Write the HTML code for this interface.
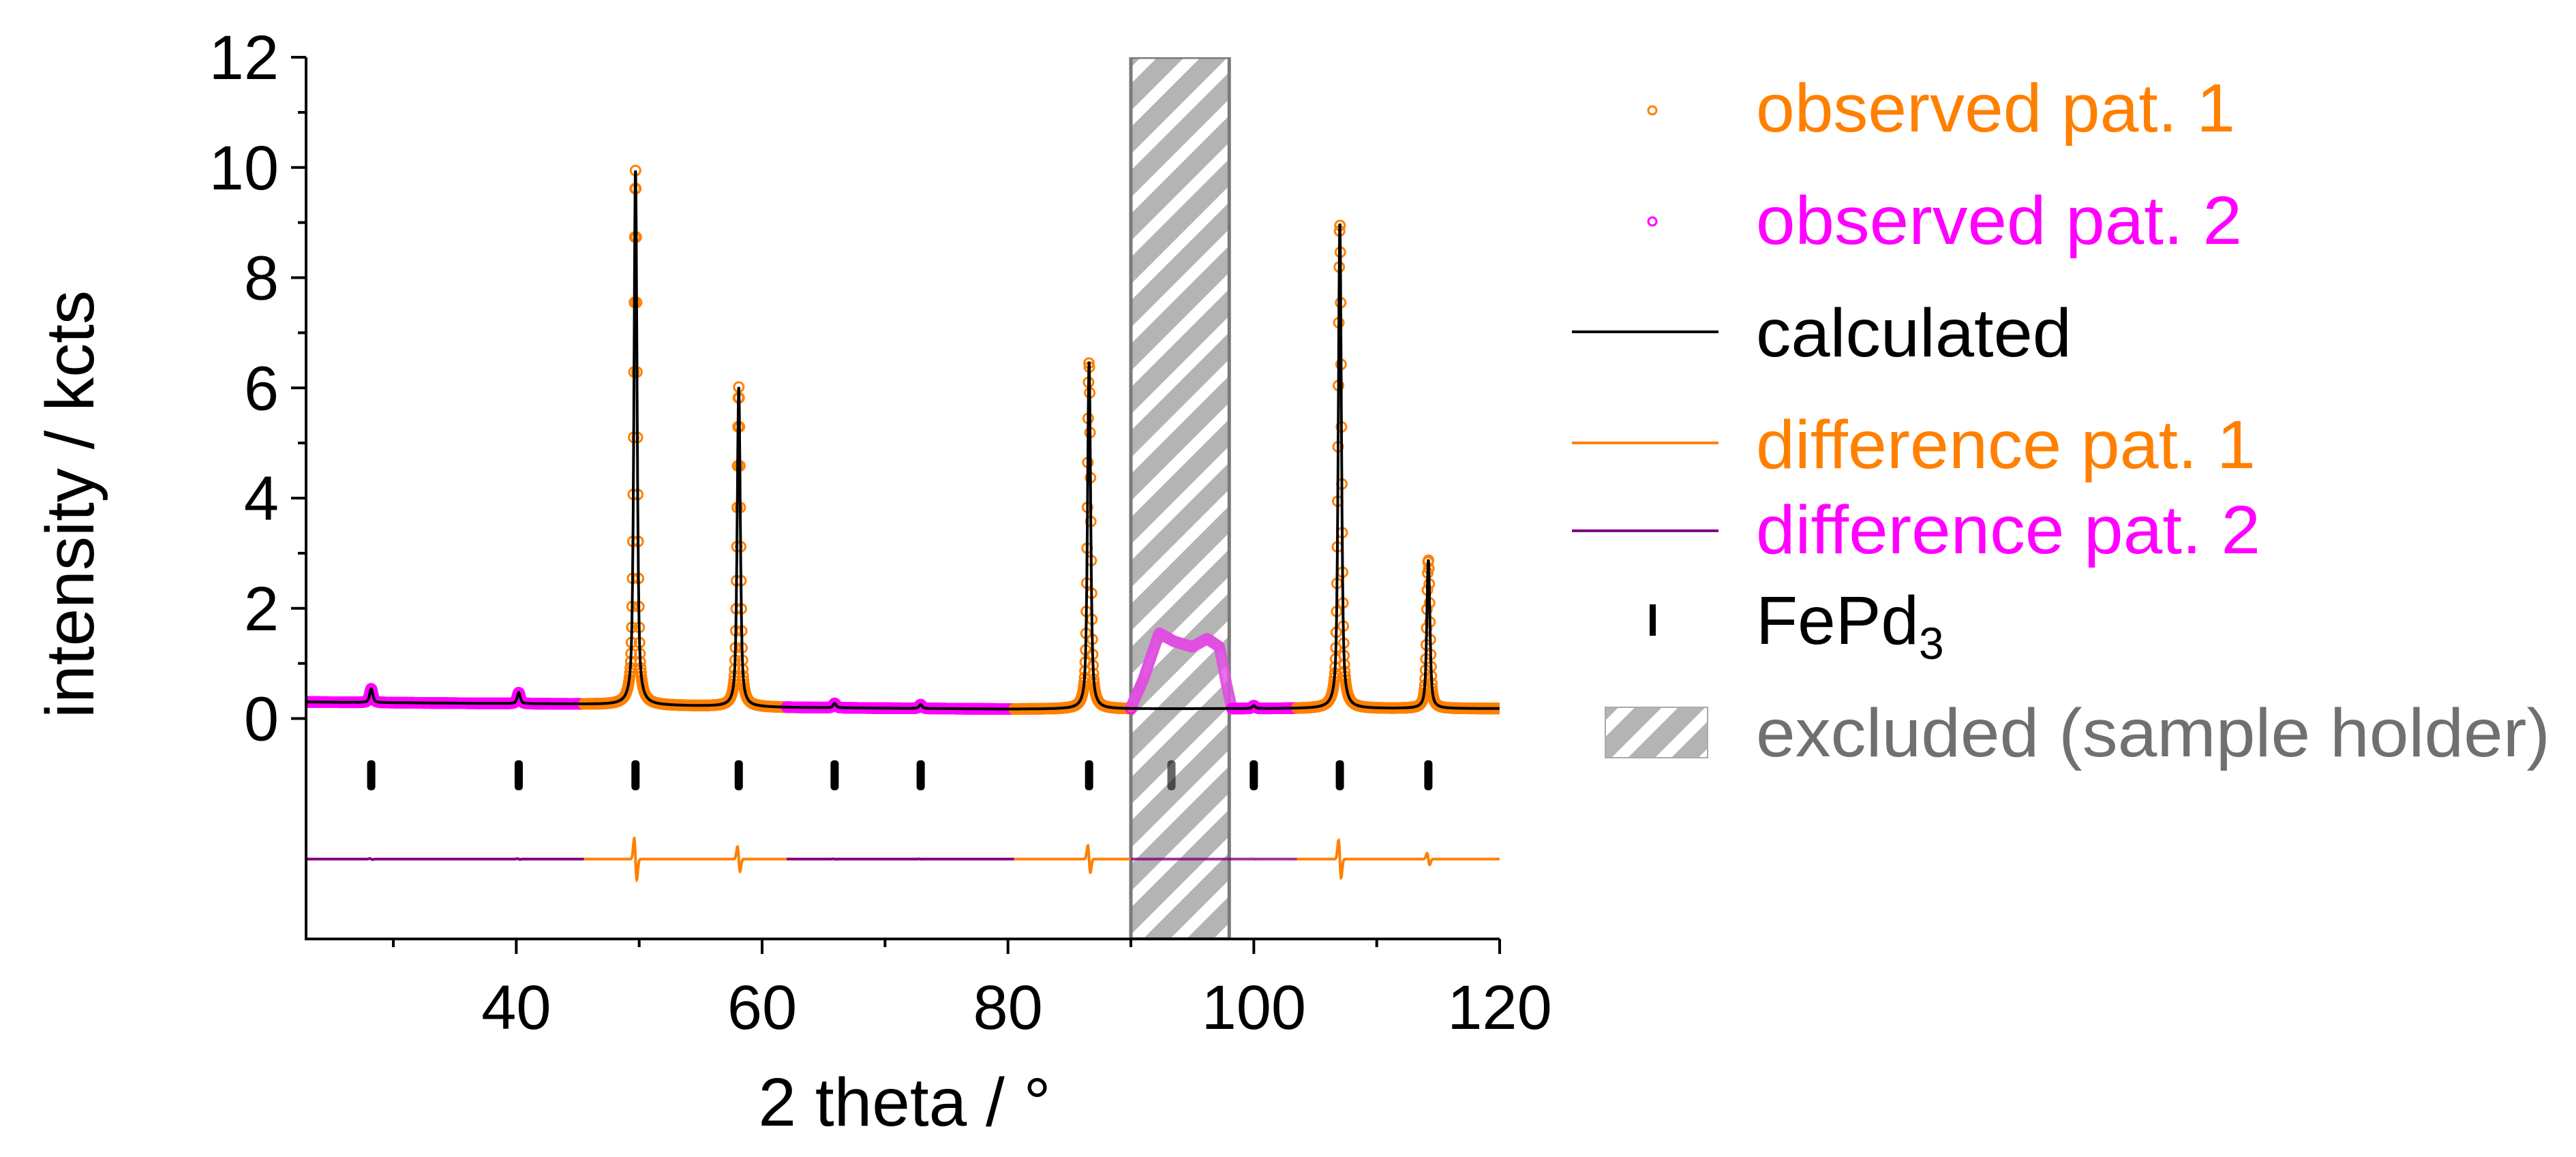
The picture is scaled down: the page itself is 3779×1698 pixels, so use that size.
<!DOCTYPE html>
<html><head><meta charset="utf-8"><style>
html,body{margin:0;padding:0;background:#fff;}
svg{display:block;font-family:"Liberation Sans",Arial,sans-serif;}
</style></head><body>
<svg id="chart" width="3779" height="1698" viewBox="0 0 3779 1698" xmlns="http://www.w3.org/2000/svg">
<defs>
<pattern id="hatch" patternUnits="userSpaceOnUse" width="45" height="45" patternTransform="rotate(45)">
<rect x="0" y="0" width="45" height="45" fill="#fff"/>
<rect x="0" y="0" width="28" height="45" fill="#b4b4b4"/>
</pattern>
<clipPath id="plotclip"><rect x="449" y="84" width="1751" height="1294"/></clipPath>
</defs>
<g id="plot" clip-path="url(#plotclip)"></g>
<g id="axes"></g>
<g id="legend"></g>
</svg>
<script>
// ---- data ----
const peakPos = [28.2, 40.2, 49.7, 58.1, 65.9, 72.9, 86.6, 93.3, 100.0, 107.0, 114.2];
const peakHeight = [0.25, 0.2, 9.7, 5.8, 0.08, 0.07, 6.3, 0.0, 0.05, 8.8, 2.7];
const bgX = [23, 45, 62, 80, 100, 120];
const bgY = [0.3, 0.26, 0.2, 0.17, 0.18, 0.18];
const segStart = [23, 45.5, 62, 80.5, 90, 103.5];
const segEnd = [45.5, 62, 80.5, 90, 103.5, 120];
const segPattern = [2, 1, 2, 1, 2, 1];
const humpX = [90, 91, 92.3, 93.5, 95, 96.2, 97.2, 97.8, 98.2];
const humpY = [0.2, 0.7, 1.55, 1.4, 1.3, 1.45, 1.3, 0.6, 0.2];
const xTicks = [40, 60, 80, 100, 120];
const yTicks = [0, 2, 4, 6, 8, 10, 12];
const excluded = [90, 98];
const diffBase = -2.55;
const tickRowY = -1.03;

// ---- axes functions ----
const X0 = 449, X1 = 2200, Y0 = 84, Y1 = 1378;
const xmin = 22.9, xmax = 120, ymin = -4, ymax = 12;
const sx = v => X0 + (v - xmin) / (xmax - xmin) * (X1 - X0);
const sy = v => Y1 - (v - ymin) / (ymax - ymin) * (Y1 - Y0);
const NS = "http://www.w3.org/2000/svg";
function mk(tag, attrs, parent) { const e = document.createElementNS(NS, tag); for (const k in attrs) e.setAttribute(k, attrs[k]); parent.appendChild(e); return e; }
function bg(x) { for (let i = 0; i < bgX.length - 1; i++) if (x <= bgX[i + 1]) return bgY[i] + (bgY[i + 1] - bgY[i]) * (x - bgX[i]) / (bgX[i + 1] - bgX[i]); return bgY[bgY.length - 1]; }
const W = 0.15;
function calc(x) { let s = bg(x); for (let i = 0; i < peakPos.length; i++) { const d = (x - peakPos[i]) / W; s += peakHeight[i] * (0.6 / (1 + d * d) + 0.4 * Math.exp(-d * d * 0.69)); } return s; }
function diff(x) { let s = 0; for (let i = 0; i < peakPos.length; i++) { const d = (x - peakPos[i]) / W; s += peakHeight[i] * 0.045 * (-2 * d) * Math.exp(-d * d); } return s; }
function humpAt(x) { for (let i = 0; i < humpX.length - 1; i++) if (x >= humpX[i] && x <= humpX[i + 1]) return humpY[i] + (humpY[i + 1] - humpY[i]) * (x - humpX[i]) / (humpX[i + 1] - humpX[i]); return null; }

const plot = document.getElementById('plot');
const axes = document.getElementById('axes');
const leg = document.getElementById('legend');

// excluded region
const ex = mk('rect', { x: sx(excluded[0]), y: Y0, width: sx(excluded[1]) - sx(excluded[0]), height: Y1 - Y0, fill: 'url(#hatch)', stroke: '#7a7a7a', 'stroke-width': 5 }, plot);



// observed points
const obs = mk('g', {}, plot);


for (let s = 0; s < segStart.length; s++) {
  const col = segPattern[s] === 1 ? '#ff8000' : '#ff00ff';
  for (let x = segStart[s]; x <= segEnd[s]; x += 0.03) {
    let y = calc(x);
    const inEx = x > excluded[0] && x < 98.2;
    if (inEx) { const h = humpAt(x); if (h !== null) y = h; }
    const c = mk('circle', { cx: sx(x).toFixed(1), cy: sy(y).toFixed(1), r: 7, fill: 'none', stroke: inEx ? '#e050e0' : col, 'stroke-width': 3, opacity: inEx ? 0.55 : 1 }, obs);
    
    
  }
}
// calculated line
let d = '';
for (let x = 23; x <= 120; x += 0.01) d += (d ? 'L' : 'M') + sx(x).toFixed(1) + ' ' + sy(calc(x)).toFixed(1);
const cl = mk('path', { d: d, fill: 'none', stroke: '#000', 'stroke-width': 4 }, plot);



// difference curves
for (let s = 0; s < segStart.length; s++) {
  let p = '';
  for (let x = segStart[s]; x <= segEnd[s] + 0.001; x += 0.02) p += (p ? 'L' : 'M') + sx(x).toFixed(1) + ' ' + sy(diffBase + diff(x)).toFixed(1);
  const dl = mk('path', { d: p, fill: 'none', stroke: segPattern[s] === 1 ? '#ff8000' : '#800080', 'stroke-width': 4, opacity: s === 4 ? 0.8 : 1 }, plot);
  
  
}
// reflection ticks
for (let i = 0; i < peakPos.length; i++) {
  const t = mk('rect', { x: sx(peakPos[i]) - 6, y: sy(tickRowY) - 22, width: 12, height: 44, rx: 5, fill: '#000', opacity: (peakPos[i] > excluded[0] && peakPos[i] < excluded[1]) ? 0.6 : 1 }, plot);
  
  
}

// axes lines
const al = mk('path', { d: `M${X0} ${Y0}L${X0} ${Y1}L${X1} ${Y1}`, fill: 'none', stroke: '#000', 'stroke-width': 4 }, axes);


for (let v = 0; v <= 12; v++) {
  const major = v % 2 === 0;
  const t = mk('line', { x1: X0, x2: X0 - (major ? 22 : 12), y1: sy(v), y2: sy(v), stroke: '#000', 'stroke-width': 4 }, axes);
  
  
}
for (const v of yTicks) {
  const t = mk('text', { x: X0 - 40, y: sy(v) + 32, 'font-size': 92, 'text-anchor': 'end', fill: '#000' }, axes);
  t.textContent = v;
  
  
}
for (let v = 30; v <= 120; v += 10) {
  const major = v % 20 === 0;
  const t = mk('line', { x1: sx(v), x2: sx(v), y1: Y1, y2: Y1 + (major ? 22 : 12), stroke: '#000', 'stroke-width': 4 }, axes);
  
  
}
for (const v of xTicks) {
  const t = mk('text', { x: sx(v), y: 1510, 'font-size': 92, 'text-anchor': 'middle', fill: '#000' }, axes);
  t.textContent = v;
  
  
}
const xt = mk('text', { x: 1327, y: 1652, 'font-size': 100, 'text-anchor': 'middle', fill: '#000' }, axes);
xt.textContent = '2 theta / °';


const yt = mk('text', { x: 0, y: 0, 'font-size': 100, 'text-anchor': 'middle', fill: '#000', transform: 'translate(137,740) rotate(-90)' }, axes);
yt.textContent = 'intensity / kcts';



// legend
const legItems = [
  { label: 'observed pat. 1', color: '#ff8000', y: 193, kind: 'circle', cy: 162, w: 703 },
  { label: 'observed pat. 2', color: '#ff00ff', y: 358, kind: 'circle', cy: 325, w: 713 },
  { label: 'calculated', color: '#000', y: 523, kind: 'line', cy: 487, lc: '#000', w: 463 },
  { label: 'difference pat. 1', color: '#ff8000', y: 687, kind: 'line', cy: 650, lc: '#ff8000', w: 733 },
  { label: 'difference pat. 2', color: '#ff00ff', y: 812, kind: 'line', cy: 779, lc: '#800080', w: 740 },
  { label: 'FePd', color: '#000', y: 945, kind: 'tick', cy: 910, w: 0 },
  { label: 'excluded (sample holder)', color: '#707070', y: 1110, kind: 'hatch', cy: 1075, w: 1165 }
];
for (const it of legItems) {
  const g = mk('g', {}, leg);
  
  
  if (it.kind === 'circle') mk('circle', { cx: 2424, cy: it.cy, r: 6, fill: 'none', stroke: it.color, 'stroke-width': 3 }, g);
  if (it.kind === 'line') mk('line', { x1: 2306, x2: 2521, y1: it.cy, y2: it.cy, stroke: it.lc, 'stroke-width': 4 }, g);
  if (it.kind === 'tick') mk('rect', { x: 2420, y: it.cy - 23, width: 9, height: 46, fill: '#000' }, g);
  if (it.kind === 'hatch') mk('rect', { x: 2355, y: 1038, width: 150, height: 74, fill: 'url(#hatch)', stroke: '#aaa', 'stroke-width': 2 }, g);
  const attrs = { x: 2576, y: it.y, 'font-size': 100, fill: it.color };
  if (it.w) { attrs.textLength = it.w; attrs.lengthAdjust = 'spacingAndGlyphs'; }
  const t = mk('text', attrs, g);
  t.textContent = it.label;
  if (it.label === 'FePd') { const s = mk('tspan', { 'font-size': 66, dy: 22 }, t); s.textContent = '3'; }
}
</script>
</body></html>
